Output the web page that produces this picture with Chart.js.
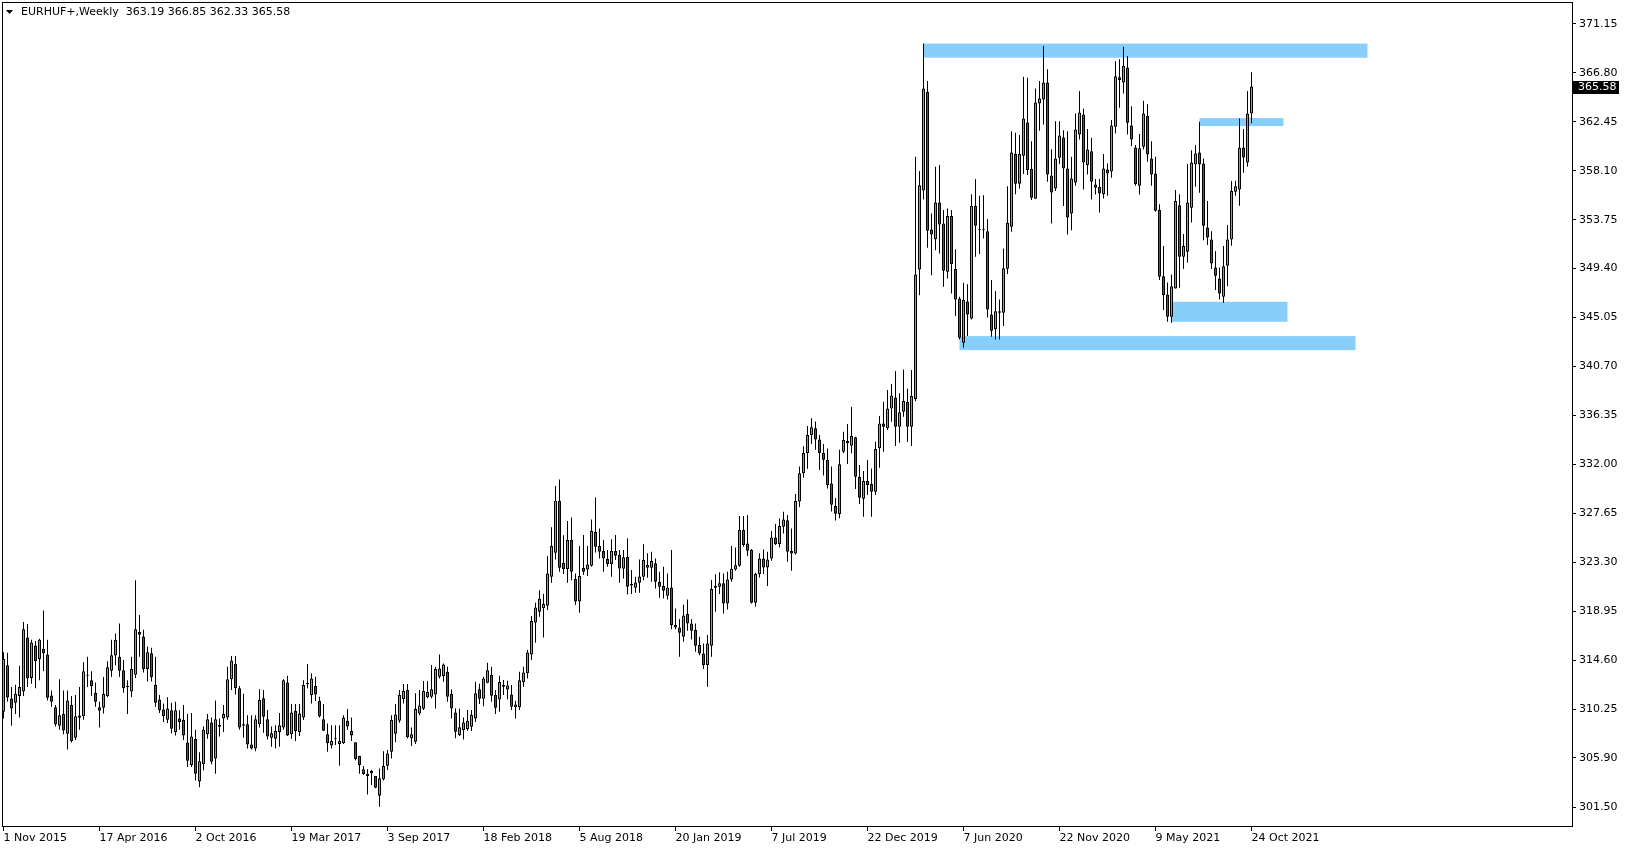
<!DOCTYPE html>
<html><head><meta charset="utf-8">
<script src="https://cdn.jsdelivr.net/npm/chart.js@4.4.1/dist/chart.umd.min.js"></script>
<style>html,body{margin:0;padding:0;background:#fff;overflow:hidden}canvas{display:block}</style>
</head><body>
<canvas id="c" width="1629" height="850"></canvas>
<script>
const symbolTitle = 'EURHUF+,Weekly';
const openP = [310.0,314.15,311.19,310.8,311.4,311.8,316.6,313.0,315.9,314.7,315.6,315.1,311.45,310.4,308.76,309.8,308.05,310.6,307.7,309.68,309.6,313.2,312.8,311.7,310.4,310.36,311.4,313.65,315.0,314.9,313.7,312.3,311.8,313.3,317.1,316.7,313.8,315.2,312.4,311.1,310.2,309.3,310.15,308.2,309.4,309.3,307.28,305.27,307.58,303.8,305.35,308.0,309.06,305.86,308.82,309.4,309.5,312.9,314.25,312.1,308.9,308.9,307.1,306.75,308.9,311.2,309.33,307.7,307.6,308.2,308.6,312.6,308.0,310.07,308.2,309.5,312.56,311.5,312.3,310.96,309.33,308.0,307.0,307.57,307.14,307.2,309.2,308.3,307.3,306.07,304.9,304.3,304.77,304.3,302.54,304.0,305.2,306.46,308.06,309.2,311.14,311.94,307.64,307.34,309.86,310.28,311.3,311.34,311.55,313.12,313.18,313.57,311.58,309.95,307.93,308.38,308.47,308.67,309.4,312.0,311.16,312.58,313.27,311.49,311.1,312.38,311.99,311.55,310.4,310.4,312.62,313.42,315.1,317.95,318.9,319.2,319.43,322.0,324.14,328.76,323.25,322.69,325.27,321.8,319.8,322.78,322.66,322.99,325.98,324.73,324.29,323.58,323.13,324.29,323.93,322.72,323.76,321.36,321.03,321.47,322.0,322.81,322.81,323.2,321.56,321.18,320.32,321.06,317.71,317.5,316.67,318.69,317.86,317.27,315.93,315.19,314.16,315.87,321.03,321.12,321.42,319.64,321.77,322.66,322.99,326.16,324.97,324.38,319.7,322.22,323.64,322.84,323.64,325.5,324.91,326.45,327.04,324.29,324.08,328.7,331.2,333.0,334.6,335.2,334.2,333.0,332.4,330.3,328.3,327.58,333.12,334.07,333.66,334.4,330.9,328.95,330.52,330.25,329.57,333.42,335.64,335.2,336.97,337.95,335.35,336.68,337.54,335.35,337.78,349.33,356.35,365.09,352.88,352.0,355.28,353.41,349.12,354.07,349.36,346.75,342.81,346.48,344.97,354.96,352.88,352.85,352.73,345.33,344.0,345.62,345.47,349.39,353.12,359.58,356.94,359.43,362.39,358.25,355.61,364.08,364.44,365.95,357.68,356.53,359.25,361.06,358.3,354.3,357.06,361.33,363.1,358.6,359.84,356.88,356.67,356.0,358.21,358.04,362.01,366.42,365.95,367.28,362.13,360.17,356.76,360.23,362.96,359.19,357.86,354.6,348.73,347.1,345.12,347.64,355.04,350.45,350.9,354.81,358.66,359.73,358.75,353.06,351.99,349.5,348.53,346.9,349.65,351.99,356.23,356.44,360.17,358.84,363.19];
const highP = [315.3,315.25,312.2,312.4,314.1,317.98,317.8,316.4,316.3,316.5,319.0,316.4,311.9,310.6,312.9,311.9,311.9,311.4,311.5,312.2,314.4,314.9,313.6,312.6,310.9,313.1,314.5,316.4,316.97,317.86,314.6,312.8,314.9,321.7,318.6,317.3,315.8,315.7,314.9,311.5,310.75,311.3,310.8,310.9,310.15,310.6,309.8,309.9,308.4,306.4,308.7,309.8,309.5,311.0,309.4,310.6,314.0,314.96,314.96,312.3,311.6,309.7,309.7,309.7,312.0,311.94,310.16,308.7,308.8,309.9,312.9,313.2,310.7,310.7,310.7,312.8,314.25,313.4,313.12,311.35,310.7,308.97,308.8,308.8,308.8,309.7,310.25,309.5,307.3,306.1,305.18,304.9,304.83,304.3,304.97,306.5,306.6,309.7,310.7,311.94,312.47,312.47,308.6,311.64,311.94,312.74,312.74,314.16,314.0,315.1,314.3,314.0,312.0,310.3,310.3,309.5,310.16,310.16,312.67,312.5,313.12,314.36,314.0,311.93,313.2,312.82,312.76,312.38,310.99,313.56,314.0,315.49,318.51,319.7,320.8,320.5,323.85,326.4,330.07,330.66,325.7,326.96,327.28,322.3,324.73,325.71,324.73,327.1,329.06,326.3,325.27,324.38,325.33,325.71,324.38,324.38,325.42,322.6,322.0,323.55,324.9,324.1,324.23,323.64,322.45,322.9,322.3,324.38,319.19,318.25,319.55,319.99,318.25,317.86,316.67,316.08,316.82,321.71,322.24,322.4,322.3,322.45,324.73,324.6,327.4,327.4,327.49,324.47,322.36,324.1,324.44,324.23,326.07,326.69,327.19,327.79,327.49,326.3,329.36,331.8,333.6,335.4,336.1,335.8,334.6,333.8,333.4,331.8,329.0,333.3,334.9,335.58,337.12,334.46,331.94,331.4,332.38,331.64,334.01,336.3,337.57,338.6,339.14,340.29,338.31,340.44,338.75,340.38,359.34,358.07,369.41,366.07,354.3,358.45,358.6,354.6,354.75,354.6,351.13,346.9,348.14,348.02,356.02,357.36,355.87,355.93,353.8,348.38,347.4,346.66,351.19,356.73,361.62,361.47,361.27,366.45,366.36,360.73,365.41,366.07,369.18,367.13,360.02,362.51,362.51,361.71,361.62,359.34,363.19,365.18,363.64,361.8,361.03,357.36,357.36,359.58,358.75,362.6,367.84,368.02,369.12,368.29,363.84,360.38,361.36,364.32,364.02,360.73,359.34,355.13,351.4,348.17,348.88,356.38,356.02,352.47,358.69,359.93,360.38,362.45,359.19,355.4,352.73,350.96,349.5,351.4,353.27,357.18,357.21,362.75,361.8,365.18,366.85];
const lowP = [309.4,310.9,308.76,309.8,309.5,311.4,312.2,312.5,312.1,312.8,313.6,311.0,310.45,308.7,308.4,308.0,306.66,307.28,307.5,308.4,309.3,312.2,311.4,310.45,308.6,309.85,311.3,313.1,314.15,313.1,311.7,309.8,311.3,313.0,314.9,313.5,312.7,312.7,310.45,309.9,309.1,309.0,308.1,307.9,308.4,307.5,305.1,305.1,303.9,303.3,304.8,307.6,305.35,304.5,307.8,308.2,309.3,311.94,311.55,308.4,307.7,306.75,306.66,306.5,308.6,308.15,307.55,306.9,306.75,306.9,308.4,307.85,307.6,307.4,307.85,309.27,312.1,310.75,310.96,309.5,308.3,306.45,306.75,307.05,305.2,307.14,308.4,307.4,305.7,304.5,304.4,302.66,303.5,303.2,301.57,303.9,304.83,305.86,307.3,309.03,310.75,307.64,306.96,307.14,309.7,310.16,311.2,311.2,310.3,312.97,312.68,310.9,309.4,307.64,307.85,307.55,308.32,308.3,309.1,310.7,310.5,312.53,310.9,309.8,310.0,311.49,311.1,310.16,309.4,310.16,312.23,312.97,314.6,316.14,318.45,316.6,319.05,321.48,323.55,322.45,322.25,321.48,321.7,319.5,318.8,322.16,322.07,322.9,324.17,323.64,322.45,322.9,322.0,323.49,321.48,321.86,320.44,320.47,320.58,320.58,321.7,321.92,321.56,320.97,320.14,320.08,319.99,317.33,317.33,314.9,316.23,317.21,316.44,315.34,315.02,313.8,312.23,314.9,318.9,320.47,318.75,319.1,321.56,322.54,322.9,324.67,323.85,319.64,319.34,321.95,322.25,321.18,323.43,324.82,324.61,325.86,323.34,322.54,323.99,328.2,330.8,331.6,333.8,333.3,331.5,331.0,329.86,327.8,327.0,327.2,332.98,332.03,332.98,329.8,328.47,327.35,329.27,327.35,329.27,331.7,333.12,335.05,335.79,333.63,333.92,336.24,334.01,333.63,337.6,347.04,355.55,351.25,348.82,351.04,350.75,347.78,348.53,347.19,345.18,343.1,342.39,343.4,344.88,350.45,350.69,352.08,345.06,343.34,343.1,343.1,344.29,348.91,352.67,356.02,356.53,357.8,357.71,355.49,355.6,361.65,362.21,357.12,353.41,356.29,358.69,354.96,352.44,352.82,356.76,360.88,356.44,357.77,355.55,355.99,354.39,355.64,355.87,357.47,361.41,363.7,364.97,361.33,360.29,356.76,355.99,359.99,358.9,356.76,354.45,348.38,345.71,344.67,344.58,347.64,347.7,349.36,349.95,353.5,356.67,356.14,351.93,351.49,349.36,347.49,346.66,346.36,347.84,351.43,355.87,354.99,357.92,358.45,362.33];
const closeP = [314.7,311.28,310.3,311.6,312.2,317.35,312.97,316.17,314.5,316.4,315.2,311.25,310.9,308.9,309.7,308.35,311.0,307.4,309.6,309.47,313.6,313.25,312.3,310.9,310.1,311.6,313.97,315.04,316.4,313.65,312.1,312.2,313.8,317.35,316.85,313.8,315.3,313.1,310.8,310.15,309.6,310.3,308.5,310.15,309.1,307.9,305.65,307.8,304.5,305.6,308.4,309.35,305.56,309.35,308.67,309.8,312.9,314.57,312.1,308.6,308.76,307.1,306.75,309.33,311.05,309.57,307.8,308.1,308.3,308.8,312.8,307.9,309.95,308.3,309.86,312.38,312.44,312.97,311.55,309.6,308.32,307.2,307.4,307.6,307.4,309.5,308.7,307.9,305.8,305.27,304.47,304.5,304.53,303.25,304.1,305.18,306.3,309.27,309.77,311.5,311.85,307.73,308.0,310.25,310.57,311.85,311.76,312.0,313.8,313.86,314.2,311.34,310.3,308.23,308.62,309.06,309.21,309.71,311.64,311.16,312.97,313.7,311.43,310.36,312.65,312.23,312.35,310.45,310.66,312.8,313.5,315.28,318.07,319.28,320.08,319.58,322.3,324.73,328.76,322.81,322.69,325.27,322.45,319.8,322.07,322.45,323.1,326.07,324.68,324.23,323.64,323.13,324.29,323.87,322.75,323.73,321.12,321.24,321.5,322.04,323.49,323.05,323.4,321.56,321.12,320.76,321.06,317.71,317.5,317.03,318.57,317.86,317.21,315.87,315.19,314.16,316.08,320.91,321.21,321.42,319.64,321.77,322.72,323.02,326.16,324.82,324.32,319.7,322.25,323.64,322.84,323.55,325.5,324.91,326.51,327.1,324.23,324.08,328.73,331.2,333.0,334.6,335.3,334.2,333.0,332.4,330.16,328.4,327.6,332.0,334.16,333.87,334.52,330.9,329.04,330.52,330.16,329.57,333.36,335.64,335.35,336.97,338.13,335.35,336.62,337.63,335.35,338.07,348.88,356.82,365.41,352.76,352.44,355.28,353.33,349.21,354.07,349.8,346.66,343.25,346.6,345.33,354.96,353.21,352.82,352.82,345.77,343.87,345.62,345.47,349.44,353.47,359.73,356.94,359.58,362.75,358.16,355.7,364.17,364.53,365.95,357.77,356.17,359.19,361.24,358.3,353.95,357.41,361.77,363.28,358.84,359.99,357.12,356.58,356.08,358.3,357.86,362.13,366.51,366.16,367.4,362.36,360.88,356.91,360.11,363.19,359.55,357.77,354.54,348.67,347.04,345.12,347.84,355.4,350.45,351.4,355.28,358.84,359.64,358.66,353.21,352.17,349.86,348.76,347.19,349.62,351.99,356.29,356.73,360.14,359.28,363.19,365.58];
const xTickIdx = [0,24,48,72,96,120,144,168,192,216,240,264,288,312];
const xTickLabels = ['1 Nov 2015','17 Apr 2016','2 Oct 2016','19 Mar 2017','3 Sep 2017','18 Feb 2018','5 Aug 2018','20 Jan 2019','7 Jul 2019','22 Dec 2019','7 Jun 2020','22 Nov 2020','9 May 2021','24 Oct 2021'];
const yTicks = [371.15,366.80,362.45,358.10,353.75,349.40,345.05,340.70,336.35,332.00,327.65,323.30,318.95,314.60,310.25,305.90,301.50];
const boxStart = [230,299,292,239];
const boxEnd = [341,320,321,338];
const boxHigh = [369.40,362.78,346.45,343.40];
const boxLow = [368.15,362.07,344.67,342.15];

const BULL = '#30e030', BEAR = '#e01c1c';
const idx = openP.map((_, i) => i);
const bodyData = idx.map(i => ({x: i, y: [Math.min(openP[i], closeP[i]), Math.max(openP[i], closeP[i])]}));
const wickData = idx.map(i => ({x: i, y: [lowP[i], highP[i]]}));
const bodyColors = idx.map(i => closeP[i] > openP[i] ? BULL : (closeP[i] < openP[i] ? BEAR : '#000'));

Chart.defaults.font.family = 'DejaVu Sans';
Chart.defaults.font.size = 11;
Chart.defaults.color = '#000';

const decor = {
  id: 'decor',
  beforeDatasetsDraw(chart) {
    const {ctx, chartArea: a, scales: {x, y}} = chart;
    ctx.save();
    ctx.beginPath(); ctx.rect(a.left, a.top, a.right - a.left, a.bottom - a.top); ctx.clip();
    ctx.fillStyle = '#87cefa';
    for (let k = 0; k < boxStart.length; k++) {
      const x0 = x.getPixelForValue(boxStart[k]), x1 = x.getPixelForValue(boxEnd[k]);
      const y0 = y.getPixelForValue(boxHigh[k]), y1 = y.getPixelForValue(boxLow[k]);
      ctx.fillRect(x0, y0, x1 - x0, y1 - y0);
    }
    ctx.restore();
  },
  afterDraw(chart) {
    const {ctx, chartArea: a, scales: {y}} = chart;
    ctx.save();
    ctx.strokeStyle = '#000'; ctx.lineWidth = 1;
    ctx.strokeRect(a.left + 0.5, a.top + 0.5, a.right - a.left, a.bottom - a.top);
    // title
    ctx.fillStyle = '#000';
    ctx.beginPath(); ctx.moveTo(6, 10); ctx.lineTo(13, 10); ctx.lineTo(9.5, 14); ctx.closePath(); ctx.fill();
    ctx.font = '11px "DejaVu Sans"'; ctx.textBaseline = 'middle'; ctx.textAlign = 'left';
    const n = closeP.length - 1;
    const t = symbolTitle + '  ' + [openP[n], highP[n], lowP[n], closeP[n]].map(v => v.toFixed(2)).join(' ');
    ctx.fillText(t, 21, 12.5);
    // current price label
    const py = Math.round(y.getPixelForValue(closeP[n]));
    ctx.fillRect(a.right + 1, py - 6, 46, 13);
    ctx.fillStyle = '#fff';
    ctx.fillText(closeP[n].toFixed(2), a.right + 6, py + 0.5);
    ctx.restore();
  }
};

new Chart(document.getElementById('c'), {
  type: 'bar',
  data: {
    datasets: [
      {data: bodyData, backgroundColor: bodyColors, borderColor: '#000', borderWidth: 1, borderSkipped: false,
       barThickness: 3, grouped: false, inflateAmount: 0, minBarLength: 1, order: 0},
      {data: wickData, backgroundColor: '#000', borderWidth: 0, barThickness: 1, grouped: false,
       inflateAmount: 0, order: 1}
    ]
  },
  options: {
    responsive: false, animation: false, devicePixelRatio: 1,
    layout: {padding: {left: 2, top: 2, right: 0, bottom: 0}},
    plugins: {legend: {display: false}, tooltip: {enabled: false}},
    scales: {
      x: {
        type: 'linear', min: -0.375, max: 392.125, offset: false,
        grid: {display: true, drawOnChartArea: false, drawTicks: true, tickLength: 5, color: '#000', offset: false},
        border: {display: false},
        afterBuildTicks: s => { s.ticks = xTickIdx.map(v => ({value: v})); },
        afterFit: s => { s.height = 24; s.paddingLeft = 0; s.paddingRight = 0; },
        ticks: {autoSkip: false, maxRotation: 0, minRotation: 0, align: 'start', padding: 2,
          font: {family: 'DejaVu Sans', size: 11, lineHeight: 1}, color: '#000',
          callback: v => { const k = xTickIdx.indexOf(v); return k >= 0 ? xTickLabels[k] : ''; }}
      },
      y: {
        type: 'linear', position: 'right', min: 299.85, max: 373.10,
        grid: {display: true, drawOnChartArea: false, drawTicks: true, tickLength: 4, color: '#000'},
        border: {display: false},
        afterBuildTicks: s => { s.ticks = yTicks.map(v => ({value: v})); },
        afterFit: s => { s.width = 57; s.paddingTop = 0; s.paddingBottom = 0; },
        ticks: {padding: 3, font: {family: 'DejaVu Sans', size: 11}, color: '#000', callback: v => v.toFixed(2)}
      }
    }
  },
  plugins: [decor]
});
</script>
</body></html>
